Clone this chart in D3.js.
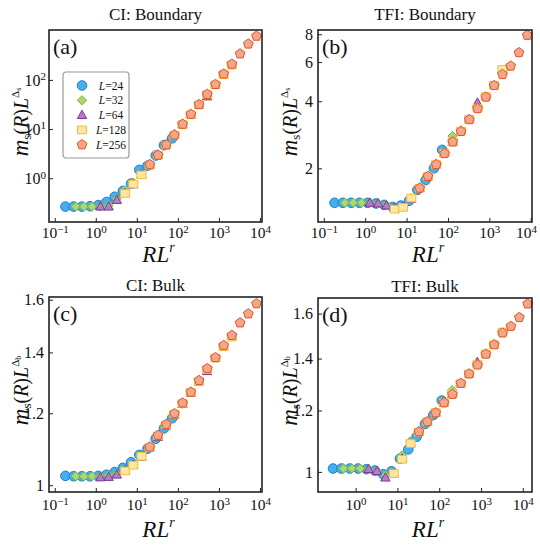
<!DOCTYPE html>
<html>
<head>
<meta charset="utf-8">
<script src="https://cdn.jsdelivr.net/npm/d3@7"></script>
<style>
body { margin: 0; background: #fff; }
text { font-family: "Liberation Serif", "Times New Roman", serif; fill: #111; }
</style>
</head>
<body>
<div id="chart"></div>
<script>
// ---- data ----
var sizes = [24, 32, 64, 128, 256];

// R L^r for panels (a)-(c)
var x24 = [0.182, 0.288, 0.457, 0.724, 1.148, 1.820, 2.884, 4.571, 7.244, 11.48, 18.20, 28.84, 45.71, 72.44];
var x32 = [0.324, 0.513, 0.813, 1.288, 2.042, 3.236, 5.129, 8.128, 12.88, 20.42, 32.36, 51.29, 81.28, 128.8];
var x64 = [1.294, 2.051, 3.251, 5.152, 8.166, 12.94, 20.51, 32.51, 51.52, 81.66, 129.4, 205.1, 325.1, 515.2];
var x128 = [5.176, 8.204, 13.00, 20.61, 32.66, 51.76, 82.04, 130.0, 206.1, 326.6, 517.6, 820.4, 1300, 2061];
var x256 = [20.70, 32.81, 52.00, 82.41, 130.6, 207.0, 328.1, 520.0, 824.1, 1306, 2070, 3281, 5200, 8241];

// R L^r for panel (d)
var xd24 = [0.288, 0.457, 0.724, 1.148, 1.820, 2.884, 4.571, 7.244, 11.48, 18.20, 28.84, 45.71, 72.44, 114.8];
var xd32 = [0.513, 0.813, 1.288, 2.042, 3.236, 5.129, 8.128, 12.88, 20.42, 32.36, 51.29, 81.28, 128.8, 204.2];
var xd64 = [2.051, 3.251, 5.152, 8.166, 12.94, 20.51, 32.51, 51.52, 81.66, 129.4, 205.1, 325.1, 515.2, 816.6];
var xd128 = [8.204, 13.00, 20.61, 32.66, 51.76, 82.04, 130.0, 206.1, 326.6, 517.6, 820.4, 1300, 2061, 3266];
var xd256 = [32.81, 52.00, 82.41, 130.6, 207.0, 328.1, 520.0, 824.1, 1306, 2070, 3281, 5200, 8241, 13061];

// (a) CI: Boundary
var ciBnd24 = [0.265, 0.265, 0.265, 0.27, 0.285, 0.33, 0.42, 0.55, 0.78, 1.48, 1.8, 2.9, 4.7, 6.5];
var ciBnd32 = [0.265, 0.265, 0.265, 0.27, 0.28, 0.38, 0.575, 0.82, 1.25, 1.9, 3.0, 4.8, 7.6, 12.5];
var ciBnd64 = [0.265, 0.265, 0.36, 0.5, 0.75, 1.2, 1.9, 3.0, 4.8, 7.7, 12.5, 20, 31, 46];
var ciBnd128 = [0.49, 0.76, 1.17, 1.85, 2.95, 4.7, 7.5, 12.3, 19.5, 31, 50, 79, 128, 200];
var ciBnd256 = [1.9, 2.95, 4.8, 7.6, 12.6, 20, 31.6, 51, 81, 132, 209, 339, 537, 776];

// (b) TFI: Boundary
var tfiBnd24 = [1.40, 1.40, 1.40, 1.40, 1.40, 1.39, 1.37, 1.34, 1.36, 1.43, 1.60, 1.77, 2.00, 2.42];
var tfiBnd32 = [1.40, 1.40, 1.40, 1.40, 1.39, 1.37, 1.33, 1.34, 1.46, 1.63, 1.85, 2.08, 2.35, 2.79];
var tfiBnd64 = [1.40, 1.39, 1.36, 1.33, 1.34, 1.46, 1.63, 1.84, 2.08, 2.34, 2.62, 2.95, 3.32, 3.94];
var tfiBnd128 = [1.31, 1.335, 1.47, 1.63, 1.84, 2.08, 2.34, 2.63, 2.94, 3.32, 3.72, 4.2, 4.72, 5.56];
var tfiBnd256 = [1.63, 1.84, 2.08, 2.33, 2.63, 2.93, 3.31, 3.71, 4.18, 4.71, 5.28, 5.76, 6.62, 7.92];

// (c) CI: Bulk
var ciBulk24 = [1.024, 1.023, 1.023, 1.023, 1.024, 1.027, 1.034, 1.045, 1.06, 1.08, 1.097, 1.125, 1.155, 1.185];
var ciBulk32 = [1.023, 1.023, 1.023, 1.023, 1.025, 1.03, 1.04, 1.055, 1.077, 1.10, 1.133, 1.165, 1.195, 1.23];
var ciBulk64 = [1.020, 1.021, 1.027, 1.038, 1.053, 1.075, 1.10, 1.13, 1.163, 1.195, 1.228, 1.263, 1.30, 1.335];
var ciBulk128 = [1.037, 1.052, 1.076, 1.10, 1.133, 1.165, 1.197, 1.23, 1.265, 1.30, 1.34, 1.38, 1.42, 1.455];
var ciBulk256 = [1.102, 1.135, 1.167, 1.199, 1.232, 1.266, 1.304, 1.344, 1.382, 1.425, 1.462, 1.509, 1.544, 1.584];

// (d) TFI: Bulk
var tfiBulk24 = [1.010, 1.010, 1.010, 1.010, 1.008, 1.004, 0.993, 1.002, 1.04, 1.069, 1.11, 1.153, 1.184, 1.236];
var tfiBulk32 = [1.010, 1.010, 1.010, 1.008, 1.002, 0.99, 1.0, 1.05, 1.095, 1.127, 1.16, 1.19, 1.228, 1.275];
var tfiBulk64 = [1.008, 1.002, 0.983, 0.995, 1.04, 1.088, 1.125, 1.16, 1.192, 1.228, 1.26, 1.30, 1.338, 1.385];
var tfiBulk128 = [0.995, 1.038, 1.088, 1.125, 1.16, 1.193, 1.228, 1.262, 1.30, 1.338, 1.377, 1.419, 1.459, 1.515];
var tfiBulk256 = [1.127, 1.161, 1.192, 1.228, 1.259, 1.301, 1.338, 1.374, 1.419, 1.459, 1.511, 1.541, 1.582, 1.647];

var xTicksAll = [0.1, 1, 10, 100, 1000, 10000];
var xTicksD = [1, 10, 100, 1000, 10000];
var yTicksCIB = [1, 10, 100];
var yTicksTFIB = [2, 4, 6, 8];
var yTicksBulk = [1, 1.2, 1.4, 1.6];

// ---- styles ----
var marks = [
	{shape: "circle", fill: "#45b0f0", stroke: "#1f80c8"},
	{shape: "diamond", fill: "#acd873", stroke: "#7cb342"},
	{shape: "triangle", fill: "#b27dc9", stroke: "#7b3a97"},
	{shape: "square", fill: "#fde6a1", stroke: "#f2be3c"},
	{shape: "pentagon", fill: "#f4a68b", stroke: "#e0532a"}
];

function shapePath(s) {
	if (s == "circle") { var r = 4.8; return "M" + r + ",0A" + r + "," + r + " 0 1,1 " + (-r) + ",0A" + r + "," + r + " 0 1,1 " + r + ",0Z"; }
	if (s == "diamond") return "M0,-4.6L4.6,0L0,4.6L-4.6,0Z";
	if (s == "triangle") return "M0,-4.9L4.7,3.4L-4.7,3.4Z";
	if (s == "square") return "M-4.5,-3.8L4.5,-3.8L4.5,3.8L-4.5,3.8Z";
	var p = [];
	for (var k = 0; k < 5; k++) {
		var a = -Math.PI / 2 + k * 2 * Math.PI / 5;
		p.push((5.1 * Math.cos(a)).toFixed(2) + "," + (5.1 * Math.sin(a)).toFixed(2));
	}
	return "M" + p.join("L") + "Z";
}

var panels = [
	{tag: "(a)", title: "CI: Boundary", left: 49, top: 30, w: 213, h: 192, sub: "s",
		xd: [Math.pow(10, -1.14), Math.pow(10, 4.05)], yd: [0.129, 1033],
		xt: xTicksAll, yt: yTicksCIB, ypow: true,
		xs: [x24, x32, x64, x128, x256], ys: [ciBnd24, ciBnd32, ciBnd64, ciBnd128, ciBnd256], legend: true},
	{tag: "(b)", title: "TFI: Boundary", left: 318, top: 30, w: 214, h: 192, sub: "s",
		xd: [Math.pow(10, -1.14), Math.pow(10, 4.03)], yd: [1.148, 8.36],
		xt: xTicksAll, yt: yTicksTFIB, ypow: false,
		xs: [x24, x32, x64, x128, x256], ys: [tfiBnd24, tfiBnd32, tfiBnd64, tfiBnd128, tfiBnd256]},
	{tag: "(c)", title: "CI: Bulk", left: 49, top: 297, w: 213, h: 195, sub: "b",
		xd: [Math.pow(10, -1.14), Math.pow(10, 4.05)], yd: [0.983, 1.611],
		xt: xTicksAll, yt: yTicksBulk, ypow: false,
		xs: [x24, x32, x64, x128, x256], ys: [ciBulk24, ciBulk32, ciBulk64, ciBulk128, ciBulk256]},
	{tag: "(d)", title: "TFI: Bulk", left: 318, top: 298, w: 214, h: 194, sub: "b",
		xd: [Math.pow(10, -0.90), Math.pow(10, 4.22)], yd: [0.942, 1.676],
		xt: xTicksD, yt: yTicksBulk, ypow: false,
		xs: [xd24, xd32, xd64, xd128, xd256], ys: [tfiBulk24, tfiBulk32, tfiBulk64, tfiBulk128, tfiBulk256]}
];

var svg = d3.select("#chart").append("svg")
	.attr("width", 540)
	.attr("height", 547);

function powLabel(t, d) {
	var e = Math.round(Math.log10(d));
	t.text(null);
	t.append("tspan").text("10");
	t.append("tspan").attr("dy", "-0.5em").attr("font-size", "11px").text(e < 0 ? "\u2212" + (-e) : e);
}

panels.forEach(function (p) {
	var g = svg.append("g").attr("transform", "translate(" + p.left + "," + p.top + ")");

	var x = d3.scaleLog().domain(p.xd).range([0, p.w]);
	var y = d3.scaleLog().domain(p.yd).range([p.h, 0]);

	// x axis
	var xa = g.append("g")
		.attr("transform", "translate(0," + p.h + ")")
		.call(d3.axisBottom(x).tickValues(p.xt).tickSizeInner(-4).tickSizeOuter(0).tickFormat(""));
	xa.select(".domain").remove();
	xa.selectAll(".tick line").attr("stroke", "#222");
	xa.selectAll(".tick text")
		.attr("y", p.top > 100 ? 18 : 16).attr("dy", null)
		.attr("font-size", "15.5px")
		.each(function (d) { powLabel(d3.select(this), d); });
	// keep the last label inside the window
	xa.selectAll(".tick text")
		.filter(function (d) { return p.left + x(d) + 12 > 538; })
		.attr("dx", function (d) { return 538 - (p.left + x(d) + 12); });

	// y axis
	var ya = g.append("g")
		.call(d3.axisLeft(y).tickValues(p.yt).tickSizeInner(-4).tickSizeOuter(0).tickFormat(""));
	ya.select(".domain").remove();
	ya.selectAll(".tick line").attr("stroke", "#222");
	ya.selectAll(".tick text")
		.attr("x", p.ypow ? -3 : -5).attr("dy", "0.33em")
		.attr("font-size", "16px")
		.each(function (d) {
			if (p.ypow) powLabel(d3.select(this), d);
			else d3.select(this).text(String(d));
		});

	// points, small L first
	sizes.forEach(function (L, i) {
		var pts = p.xs[i].map(function (v, j) { return {x: v, y: p.ys[i][j]}; });
		g.append("g").selectAll("path")
			.data(pts)
			.enter()
			.append("path")
				.attr("d", shapePath(marks[i].shape))
				.attr("transform", function (d) { return "translate(" + x(d.x) + "," + y(d.y) + ")"; })
				.attr("fill", marks[i].fill)
				.attr("stroke", marks[i].stroke)
				.attr("stroke-width", 1);
	});

	// frame
	g.append("rect")
		.attr("width", p.w).attr("height", p.h)
		.attr("fill", "none").attr("stroke", "#222").attr("stroke-width", 1.6);

	// title and tag
	g.append("text")
		.attr("x", p.w / 2).attr("y", p.top > 100 ? -6 : -10)
		.attr("text-anchor", "middle").attr("font-size", "17px")
		.text(p.title);
	g.append("text")
		.attr("x", 4).attr("y", 24)
		.attr("font-size", "22px")
		.text(p.tag);

	// x label
	var xl = g.append("text")
		.attr("x", p.w / 2 + 3).attr("y", p.h + (p.top > 100 ? 45 : 40))
		.attr("text-anchor", "middle");
	xl.append("tspan").attr("font-style", "italic").attr("font-size", "23px").text("RL");
	xl.append("tspan").attr("font-style", "italic").attr("font-size", "14px").attr("dy", -10).text("r");

	// y label
	var yl = g.append("text")
		.attr("transform", "translate(-21," + (p.h / 2 - 4) + ") rotate(-90)")
		.attr("text-anchor", "middle");
	yl.append("tspan").attr("font-style", "italic").attr("font-size", "23px").text("m");
	yl.append("tspan").attr("font-size", "13px").attr("dy", 3).text("s");
	yl.append("tspan").attr("font-size", "20px").attr("dy", -3).text("(");
	yl.append("tspan").attr("font-size", "20px").attr("font-style", "italic").text("R");
	yl.append("tspan").attr("font-size", "20px").text(")");
	yl.append("tspan").attr("font-size", "20px").attr("font-style", "italic").text("L");
	yl.append("tspan").attr("font-size", "11px").attr("dy", -9).text("\u0394");
	yl.append("tspan").attr("font-size", "8px").attr("dy", 2).text(p.sub);

	// legend
	if (p.legend) {
		var lg = g.append("g").attr("transform", "translate(14,42)");
		lg.append("rect")
			.attr("width", 66).attr("height", 86).attr("rx", 3)
			.attr("fill", "#fff").attr("stroke", "#999").attr("stroke-width", 1.2);
		sizes.forEach(function (L, i) {
			var row = lg.append("g").attr("transform", "translate(0," + (13.5 + i * 14.8) + ")");
			row.append("path")
				.attr("d", shapePath(marks[i].shape))
				.attr("transform", "translate(19,0)")
				.attr("fill", marks[i].fill).attr("stroke", marks[i].stroke);
			var t = row.append("text")
				.attr("x", 48).attr("y", 4)
				.attr("text-anchor", "middle").attr("font-size", "11.5px");
			t.append("tspan").attr("font-style", "italic").text("L");
			t.append("tspan").text("=" + L);
		});
	}
});
</script>
</body>
</html>
